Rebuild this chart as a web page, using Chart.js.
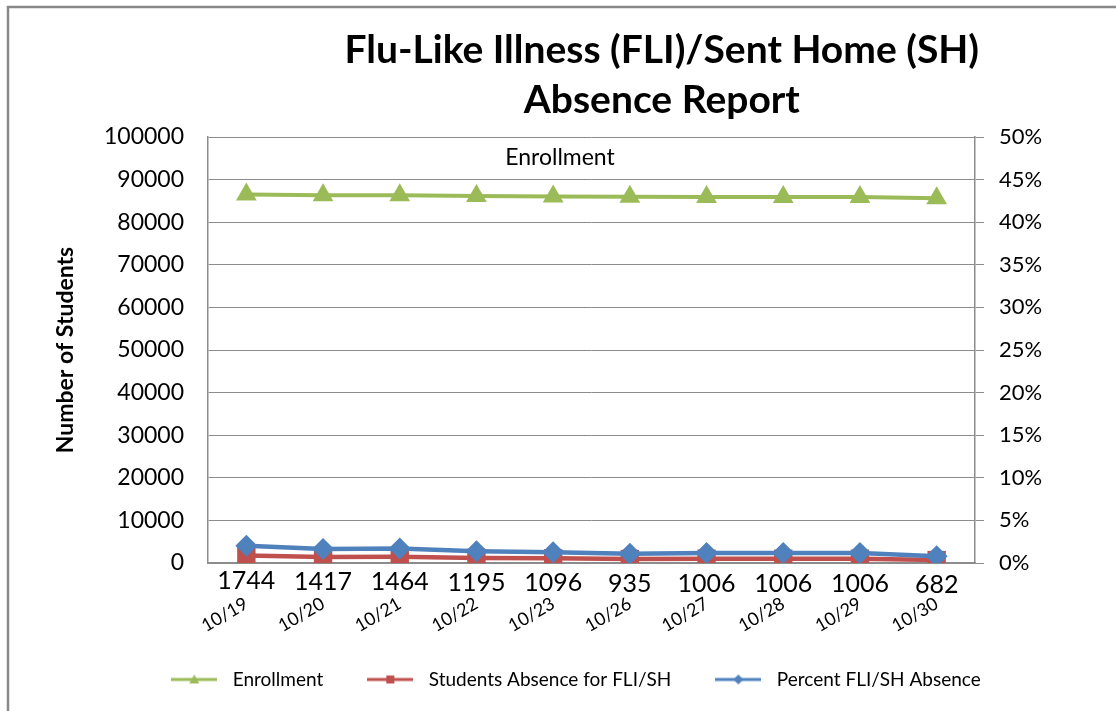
<!DOCTYPE html>
<html lang="en">
<head>
    <meta charset="UTF-8">
    <title>Flu-Like Illness (FLI)/Sent Home (SH) Absence Report</title>
    <style>
        html, body {
            margin: 0;
            padding: 0;
            background: #ffffff;
        }
        #chartContainer {
            width: 1116px;
            height: 711px;
        }
    </style>
    <script src="https://cdn.jsdelivr.net/npm/chart.js"></script>
</head>
<body>
    <div id="chartContainer">
        <canvas id="fliChart"></canvas>
    </div>

    <script>
        // values
        const days = ['10/19', '10/20', '10/21', '10/22', '10/23', '10/26', '10/27', '10/28', '10/29', '10/30'];
        const enrollment = [86500, 86350, 86300, 86150, 86050, 85950, 85900, 85900, 85900, 85600];
        const absences = [1744, 1417, 1464, 1195, 1096, 935, 1006, 1006, 1006, 682];
        const percentAbsent = [2.02, 1.64, 1.70, 1.39, 1.27, 1.09, 1.17, 1.17, 1.17, 0.80];
        const titleLines = ['Flu-Like Illness (FLI)/Sent Home (SH)', 'Absence Report'];

        const FONT = 'Lato, "Open Sans", sans-serif';
        const GREEN = '#9BBB59', RED = '#C0504D', BLUE = '#4F81BD';
        const AXIS_GREY = '#8c8c8c';

        // small line + marker picture for the legend, like excel does
        function legendIcon(color, style) {
            const c = document.createElement('canvas');
            c.width = 46; c.height = 16;
            const g = c.getContext('2d');
            g.strokeStyle = color;
            g.fillStyle = color;
            g.lineWidth = 3;
            g.beginPath();
            g.moveTo(0, 8); g.lineTo(46, 8);
            g.stroke();
            g.beginPath();
            if (style === 'triangle') {
                g.moveTo(23, 3); g.lineTo(28, 12); g.lineTo(18, 12);
            } else if (style === 'rect') {
                g.rect(19, 4, 8, 8);
            } else {
                g.moveTo(23, 3); g.lineTo(28, 8); g.lineTo(23, 13); g.lineTo(18, 8);
            }
            g.closePath();
            g.fill();
            return c;
        }

        const frameAndText = {
            id: 'frameAndText',
            beforeDraw(chart) {
                const ctx = chart.ctx;
                ctx.save();
                ctx.strokeStyle = '#888888';
                ctx.lineWidth = 2.5;
                ctx.beginPath();
                ctx.moveTo(8, chart.height + 5);
                ctx.lineTo(8, 7);
                ctx.lineTo(chart.width + 5, 7);
                ctx.stroke();
                ctx.restore();
            },
            afterDraw(chart) {
                const ctx = chart.ctx;
                const area = chart.chartArea;
                ctx.save();
                ctx.fillStyle = '#000';
                ctx.textAlign = 'center';
                ctx.textBaseline = 'middle';
                ctx.font = 'bold 39px ' + FONT;
                const cx = chart.width * 0.593;
                titleLines.forEach((t, i) => ctx.fillText(t, cx, 50 + i * 50));

                ctx.font = '23px ' + FONT;
                ctx.fillText('Enrollment', area.left + 352, area.top + 21);
                ctx.restore();
            },
            afterDatasetsDraw(chart) {
                // numbers under the absence points
                const ctx = chart.ctx;
                const meta = chart.getDatasetMeta(1);
                ctx.save();
                ctx.fillStyle = '#000';
                ctx.textAlign = 'center';
                ctx.textBaseline = 'middle';
                ctx.font = '25px ' + FONT;
                meta.data.forEach((pt, i) => {
                    ctx.fillText(String(absences[i]), pt.x, pt.y + 25);
                });
                ctx.restore();
            }
        };

        const ctx = document.getElementById('fliChart').getContext('2d');
        new Chart(ctx, {
            type: 'line',
            data: {
                labels: days,
                datasets: [
                    {
                        label: 'Enrollment',
                        data: enrollment,
                        yAxisID: 'y',
                        borderColor: GREEN,
                        backgroundColor: GREEN,
                        borderWidth: 4,
                        pointStyle: 'triangle',
                        pointRadius: 12,
                        pointBorderWidth: 0,
                        order: 0
                    },
                    {
                        label: 'Students Absence for FLI/SH',
                        data: absences,
                        yAxisID: 'y',
                        borderColor: RED,
                        backgroundColor: RED,
                        borderWidth: 4.5,
                        pointStyle: 'rect',
                        pointRadius: 13,
                        pointBorderWidth: 0,
                        order: 2
                    },
                    {
                        label: 'Percent FLI/SH Absence',
                        data: percentAbsent,
                        yAxisID: 'y1',
                        borderColor: BLUE,
                        backgroundColor: BLUE,
                        borderWidth: 4.5,
                        pointStyle: 'rectRot',
                        pointRadius: 11,
                        pointBorderWidth: 0,
                        order: 1
                    }
                ]
            },
            options: {
                responsive: true,
                maintainAspectRatio: false,
                animation: false,
                elements: { line: { tension: 0 } },
                layout: { padding: { left: 30, right: 0, top: 137, bottom: 12 } },
                plugins: {
                    title: { display: false },
                    tooltip: { enabled: false },
                    legend: {
                        position: 'bottom',
                        labels: {
                            usePointStyle: true,
                            pointStyleWidth: 58,
                            padding: 38,
                            color: '#000',
                            font: { family: FONT, size: 19 },
                            generateLabels(chart) {
                                const styles = ['triangle', 'rect', 'rectRot'];
                                return chart.data.datasets.map((ds, i) => ({
                                    text: ds.label,
                                    pointStyle: legendIcon(ds.borderColor, styles[i]),
                                    fillStyle: ds.borderColor,
                                    strokeStyle: ds.borderColor,
                                    lineWidth: 0,
                                    hidden: false,
                                    datasetIndex: i
                                }));
                            }
                        }
                    }
                },
                scales: {
                    x: {
                        offset: true,
                        grid: { display: false, drawTicks: false },
                        border: { display: true, color: AXIS_GREY, width: 1.5 },
                        ticks: {
                            color: '#000',
                            font: { family: FONT, size: 18 },
                            minRotation: 30,
                            maxRotation: 30,
                            padding: 30,
                            autoSkip: false
                        },
                        afterFit(scale) { scale.height = 69; }
                    },
                    y: {
                        position: 'left',
                        min: 0,
                        max: 100000,
                        grid: { color: AXIS_GREY, lineWidth: 1, drawTicks: false },
                        border: { display: true, color: AXIS_GREY, width: 1.5 },
                        ticks: {
                            stepSize: 10000,
                            color: '#000',
                            font: { family: FONT, size: 23 },
                            padding: 24,
                            callback: v => String(v)
                        },
                        title: {
                            display: true,
                            text: 'Number of Students',
                            color: '#000',
                            font: { family: FONT, size: 23, weight: 'bold' },
                            padding: { top: 22, bottom: 0 }
                        },
                        afterFit(scale) { scale.width = 178; }
                    },
                    y1: {
                        position: 'right',
                        min: 0,
                        max: 50,
                        grid: { drawOnChartArea: false, color: AXIS_GREY, tickLength: 9, drawTicks: true },
                        border: { display: true, color: AXIS_GREY, width: 1.5 },
                        ticks: {
                            stepSize: 5,
                            color: '#000',
                            font: { family: FONT, size: 22 },
                            padding: 15,
                            callback: v => v + '%'
                        },
                        afterFit(scale) { scale.width = 141; }
                    }
                }
            },
            plugins: [frameAndText]
        });
    </script>
</body>
</html>
